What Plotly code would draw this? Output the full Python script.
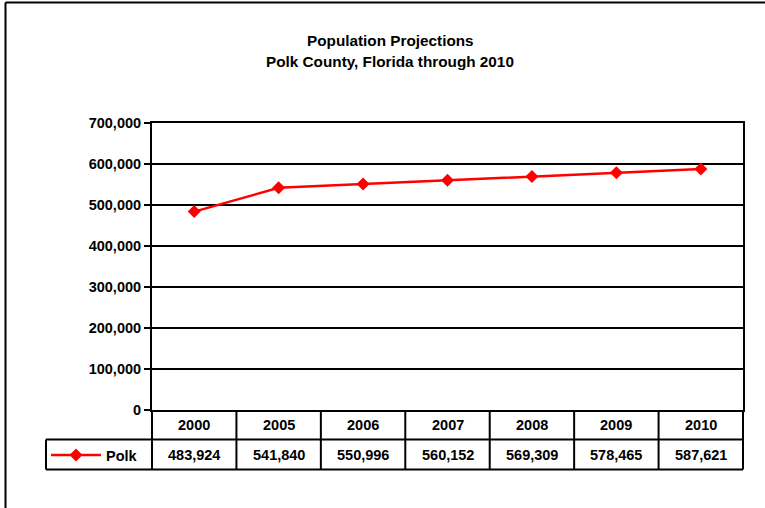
import plotly.graph_objects as go

# ---- data ----
years = ["2000", "2005", "2006", "2007", "2008", "2009", "2010"]
polk = [483924, 541840, 550996, 560152, 569309, 578465, 587621]
y_tick_vals = [0, 100000, 200000, 300000, 400000, 500000, 600000, 700000]
y_tick_text = ["{:,}".format(v) for v in y_tick_vals]
title_lines = ["Population Projections", "Polk County, Florida through 2010"]
series_name = "Polk"

# ---- geometry (pixels) ----
W, H = 765, 508
L, R, T, B = 152, 22, 123, 98
PW, PH = W - L - R, H - T - B


def px_x(x):
    return (x - L) / PW


def px_y(y):
    return (H - B - y) / PH


FONT = "Arial, 'Liberation Sans', sans-serif"
FS = 14.5
RED = "#ff0000"

x_idx = list(range(len(years)))
n = len(years)

fig = go.Figure()
fig.add_trace(go.Scatter(
    x=x_idx, y=polk, name=series_name, mode="lines+markers",
    line=dict(color=RED, width=2.5),
    marker=dict(symbol="diamond", size=10, color=RED),
    showlegend=True,
))

shapes = []
# outer border (only top and left edges fall inside the picture)
shapes.append(dict(type="line", xref="paper", yref="paper",
                   x0=px_x(5.5), x1=px_x(765), y0=px_y(2.5), y1=px_y(2.5),
                   line=dict(color="black", width=2), layer="below"))
shapes.append(dict(type="line", xref="paper", yref="paper",
                   x0=px_x(5.5), x1=px_x(5.5), y0=px_y(2.5), y1=px_y(508),
                   line=dict(color="black", width=2), layer="below"))
header_bot = px_y(439.5)
table_bot = px_y(469.5)
legend_left = px_x(46)
# column lines
for k in range(n + 1):
    shapes.append(dict(type="line", xref="paper", yref="paper",
                       x0=k / n, x1=k / n, y0=0, y1=table_bot,
                       line=dict(color="black", width=2)))
# legend cell left
shapes.append(dict(type="line", xref="paper", yref="paper",
                   x0=legend_left, x1=legend_left, y0=header_bot, y1=table_bot,
                   line=dict(color="black", width=2)))
# horizontal table lines
for yy in (header_bot, table_bot):
    shapes.append(dict(type="line", xref="paper", yref="paper",
                       x0=legend_left, x1=1, y0=yy, y1=yy,
                       line=dict(color="black", width=2)))

annotations = []
for i, (yr, v) in enumerate(zip(years, polk)):
    annotations.append(dict(x=i, xref="x", y=px_y(424.5), yref="paper",
                            text=yr, showarrow=False, xanchor="center", yanchor="middle",
                            font=dict(family=FONT, size=FS, color="black", weight="bold")))
    annotations.append(dict(x=i, xref="x", y=px_y(454.5), yref="paper",
                            text="{:,}".format(v), showarrow=False,
                            xanchor="center", yanchor="middle",
                            font=dict(family=FONT, size=FS, color="black", weight="bold")))
for j, (line, yp) in enumerate(zip(title_lines, (41, 62))):
    annotations.append(dict(x=px_x(390), xref="paper", y=px_y(yp), yref="paper",
                            text=line, showarrow=False, xanchor="center", yanchor="middle",
                            font=dict(family=FONT, size=15.3, color="black", weight="bold")))

fig.update_layout(
    width=W, height=H,
    margin=dict(l=L, r=R, t=T, b=B, pad=0),
    paper_bgcolor="white", plot_bgcolor="white",
    font=dict(family=FONT, size=FS, color="black"),
    xaxis=dict(range=[-0.5, n - 0.5], showticklabels=False, ticks="",
               showgrid=False, zeroline=False, showline=True, linecolor="black",
               linewidth=2, mirror=True, fixedrange=True),
    yaxis=dict(range=[0, 700000], tickvals=y_tick_vals, ticktext=y_tick_text,
               ticks="outside", ticklen=6, tickwidth=2, tickcolor="black",
               showgrid=True, gridcolor="black", gridwidth=2, zeroline=False,
               showline=True, linecolor="black", linewidth=2, mirror=True,
               tickfont=dict(family=FONT, size=FS, color="black", weight="bold"),
               fixedrange=True),
    legend=dict(x=px_x(46), xanchor="left", y=px_y(455), yanchor="middle",
                bgcolor="rgba(0,0,0,0)", borderwidth=0, itemwidth=50,
                font=dict(family=FONT, size=FS, color="black", weight="bold"),
                itemclick=False, itemdoubleclick=False),
    shapes=shapes,
    annotations=annotations,
)

fig.write_html(
    "out.html",
    config={"displayModeBar": False, "staticPlot": True},
    post_script=("document.body.style.margin='0px';document.body.style.padding='0px';"
                 "document.documentElement.style.overflow='hidden';"
                 "document.body.style.overflow='hidden';"),
)
